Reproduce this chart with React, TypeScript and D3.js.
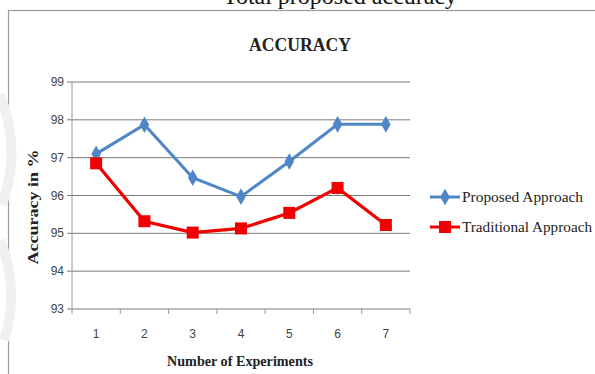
import React from "react";
import * as d3 from "d3";

const categories = ["1", "2", "3", "4", "5", "6", "7"];
const proposed = [97.1, 97.87, 96.47, 95.97, 96.9, 97.88, 97.88];
const traditional = [96.85, 95.32, 95.02, 95.13, 95.54, 96.2, 95.22];
const yTicks = [93, 94, 95, 96, 97, 98, 99];
const seriesNames = ["Proposed Approach", "Traditional Approach"];

const W = 595, H = 374;
const left = 72, right = 410, top = 82, bottom = 309;

export default function App() {
  const x = d3.scaleBand<string>().domain(categories).range([left, right]);
  const y = d3.scaleLinear().domain([93, 99]).range([bottom, top]);
  const cx = (c: string) => (x(c) ?? 0) + x.bandwidth() / 2;
  const line = d3.line<number>().x((_, i) => cx(categories[i])).y((v) => y(v));
  const blue = "#4F86C6";
  const red = "#F00000";
  const diamond = d3.symbol().type(d3.symbolDiamond).size(80)() as string;
  const serif = "'Liberation Serif', 'DejaVu Serif', serif";
  const sans = "'Liberation Sans Narrow', 'Liberation Sans', Arial, sans-serif";

  return (
    <svg width={W} height={H} style={{ position: "absolute", left: 0, top: 0, background: "#fff" }}>
      <text x={340} y={4} textAnchor="middle" fontFamily={serif} fontSize={24} fill="#111">
        Total proposed accuracy
      </text>
      <rect x={8.5} y={10.5} width={600} height={380} fill="#fff" stroke="#9a9a9a" strokeWidth={1.2} />
      <path d="M0,95 Q22,150 2,205" fill="none" stroke="#f0f0f0" strokeWidth={10} />
      <path d="M0,240 Q20,290 4,340" fill="none" stroke="#f0f0f0" strokeWidth={10} />
      <text x={300} y={51} textAnchor="middle" fontFamily={serif} fontWeight="bold" fontSize={18}
        textLength={102} lengthAdjust="spacingAndGlyphs" fill="#222">ACCURACY</text>

      {yTicks.map((t) => (
        <g key={t}>
          <line x1={left - 5} x2={right} y1={y(t)} y2={y(t)} stroke="#7a7a7a" strokeWidth={1} />
          <text x={64} y={y(t) + 4} textAnchor="end" fontFamily={sans} fontSize={12} fill="#444">{t}</text>
        </g>
      ))}
      <line x1={left} x2={left} y1={top} y2={bottom} stroke="#9a9a9a" strokeWidth={1} />
      {categories.map((c, i) => (
        <line key={"tk" + i} x1={x(c)} x2={x(c)} y1={bottom} y2={bottom + 5} stroke="#9a9a9a" />
      ))}
      <line x1={right} x2={right} y1={bottom} y2={bottom + 5} stroke="#9a9a9a" />
      {categories.map((c) => (
        <text key={"xl" + c} x={cx(c)} y={338} textAnchor="middle" fontFamily={sans} fontSize={12} fill="#444">{c}</text>
      ))}

      <path d={line(proposed) ?? ""} fill="none" stroke={blue} strokeWidth={3} />
      {proposed.map((v, i) => (
        <path key={"p" + i} d={diamond} transform={`translate(${cx(categories[i])},${y(v)})`} fill={blue} />
      ))}
      <path d={line(traditional) ?? ""} fill="none" stroke={red} strokeWidth={3.2} />
      {traditional.map((v, i) => (
        <rect key={"t" + i} x={cx(categories[i]) - 6} y={y(v) - 6} width={12} height={12} fill={red} />
      ))}

      <text transform="translate(38,207) rotate(-90)" textAnchor="middle" fontFamily={serif} fontWeight="bold"
        fontSize={14} textLength={115} lengthAdjust="spacingAndGlyphs" fill="#222">Accuracy in %</text>
      <text x={240} y={366} textAnchor="middle" fontFamily={serif} fontSize={14}
        textLength={146} lengthAdjust="spacingAndGlyphs" fill="#222" fontWeight="bold">Number of Experiments</text>

      <line x1={430} x2={460} y1={197} y2={197} stroke={blue} strokeWidth={3} />
      <path d={diamond} transform="translate(445,197)" fill={blue} />
      <text x={462} y={202} fontFamily={serif} fontSize={14} textLength={121} lengthAdjust="spacingAndGlyphs" fill="#222">{seriesNames[0]}</text>
      <line x1={430} x2={460} y1={227} y2={227} stroke={red} strokeWidth={3} />
      <rect x={439} y={221} width={12} height={12} fill={red} />
      <text x={462} y={232} fontFamily={serif} fontSize={14} textLength={130} lengthAdjust="spacingAndGlyphs" fill="#222">{seriesNames[1]}</text>
    </svg>
  );
}
